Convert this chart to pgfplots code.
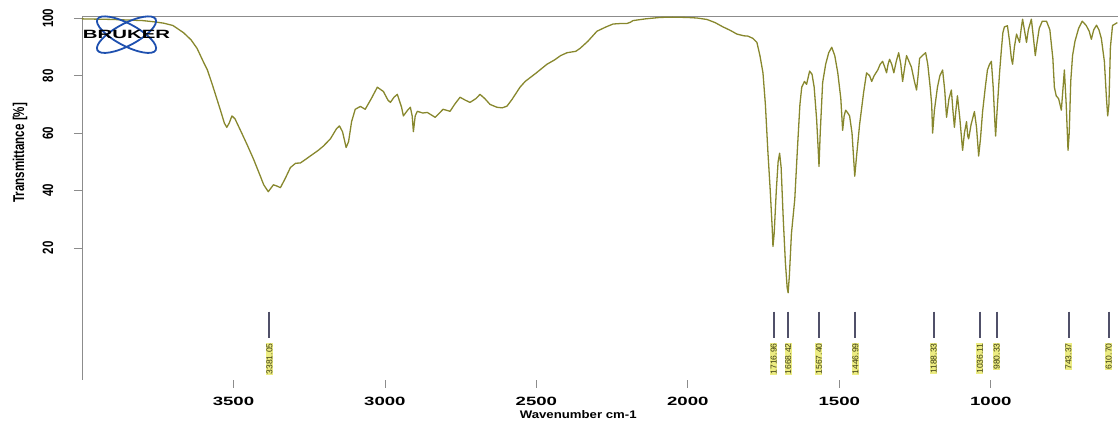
\documentclass[border=0pt]{standalone}
\usepackage{pgfplots}
\pgfplotsset{compat=1.18}
\usepackage{fontspec}
\setmainfont{Liberation Sans}
\definecolor{spec}{RGB}{135,135,45}
\definecolor{framec}{RGB}{140,140,140}
\definecolor{hl}{RGB}{236,236,130}
\definecolor{barc}{RGB}{80,80,105}
\definecolor{logoc}{RGB}{30,80,175}
\definecolor{lbltext}{RGB}{60,60,20}
\begin{document}
\begin{tikzpicture}
\begin{axis}[
  scale only axis, width=1036pt, height=364pt,
  x dir=reverse, xmin=580, xmax=4000, ymin=-26, ymax=100.8,
  axis line style={draw=none},
  xtick={1000,1500,2000,2500,3000,3500},
  ytick={20,40,60,80,100},
  tick align=outside, tick pos=left,
  major tick length=8pt,
  tick style={framec, line width=0.8pt},
  xticklabel={\scalebox{1.55}[1]{\pgfmathprintnumber[assume math mode=true,set thousands separator={}]{\tick}}},
  xticklabel style={font=\fontsize{12}{14}\selectfont\bfseries, anchor=center, yshift=-13pt},
  yticklabel={\scalebox{1}[1.3]{\pgfmathprintnumber[assume math mode=true]{\tick}}},
  yticklabel style={font=\fontsize{11.5}{13}\selectfont\bfseries, xshift=-26pt, rotate=90, anchor=center},
  xlabel={\scalebox{1.2}[1]{Wavenumber cm-1}},
  xlabel style={font=\fontsize{11}{13}\selectfont\bfseries, at={(axis description cs:0.479,-0.096)}, anchor=center},
  ylabel={\scalebox{1}[1.35]{Transmittance [\%]}},
  ylabel style={font=\fontsize{11.6}{13}\selectfont\bfseries, at={(axis description cs:-0.0598,0.624)}, anchor=center},
]
\draw[framec, line width=0.9pt] (rel axis cs:1,1) -- (rel axis cs:0,1) -- (rel axis cs:0,0) -- (rel axis cs:1,0);
\addplot[spec, line width=1.3pt, line join=round] coordinates {
(4000,99.8) (3950,99.7) (3900,99.6) (3850,99.4) (3800,99.2) (3764,98.8) (3730,98.3) (3700,97.5)
(3665,95) (3640,92.5) (3620,89.5) (3600,85) (3586,82) (3570,77) (3555,72) (3543,68) (3530,63.5)
(3522,62) (3514,63.5) (3505,66) (3495,65) (3477,61) (3455,56) (3434,51) (3415,46) (3400,42)
(3385,39.6) (3375,41) (3368,42) (3355,41.5) (3345,41) (3330,44) (3312,48) (3295,49.5) (3279,49.6)
(3260,51) (3240,52.5) (3220,54) (3203,55.5) (3180,58) (3160,61.5) (3150,62.5) (3140,60.5) (3128,55)
(3120,57) (3110,64) (3098,68.3) (3081,69.3) (3065,68.3) (3045,72) (3025,76) (3005,74.5) (2990,71.5)
(2982,70.7) (2970,72.5) (2959,73.5) (2945,69) (2939,66) (2925,68) (2916,69) (2910,66) (2906,60.5)
(2900,66) (2893,67.6) (2875,67) (2860,67.2) (2834,65.5) (2820,67) (2808,68.3) (2785,67.6) (2770,70)
(2752,72.5) (2735,71.5) (2719,70.7) (2700,72) (2686,73.5) (2670,72) (2653,70) (2630,69) (2613,68.8)
(2597,69.4) (2580,71.8) (2554,76) (2537,78) (2500,81) (2465,84) (2440,85.5) (2420,87) (2399,88)
(2370,88.5) (2356,89.5) (2330,92) (2300,95.5) (2270,97) (2247,98) (2220,98.2) (2201,98.2) (2190,98.6)
(2181,99.2) (2140,99.8) (2092,100.3) (2050,100.4) (2003,100.3) (1970,100.1) (1937,99.6) (1910,98.5)
(1884,97) (1860,95.8) (1838,94.5) (1815,93.9) (1802,93.8) (1785,93) (1772,91.6) (1762,87) (1752,81)
(1744,70) (1736,54) (1728,40) (1722,28) (1719,20.5) (1715,25) (1708,40) (1702,50) (1697,53) (1692,48)
(1685,30) (1678,15) (1672,6) (1669,4.4) (1665,10) (1658,25) (1647,37) (1638,55) (1630,70) (1624,76)
(1615,78) (1608,77) (1598,81.6) (1590,80.5) (1583,76) (1575,65) (1570,55) (1567,48.4) (1563,60)
(1555,77.6) (1545,84) (1535,88) (1525,89.9) (1515,87) (1505,81) (1495,72) (1489,61) (1484,66) (1479,68)
(1472,67) (1466,66) (1458,60) (1452,50) (1449,45) (1443,52) (1433,63) (1420,74) (1410,81) (1400,80)
(1393,78) (1385,80) (1373,82) (1365,84) (1357,85) (1350,83) (1344,81) (1339,84) (1334,85.7) (1327,84)
(1320,81) (1312,85) (1304,88) (1297,84) (1291,78) (1284,83) (1278,87) (1270,85) (1262,83) (1252,78)
(1245,75) (1240,80) (1235,86) (1226,87) (1215,88) (1208,84) (1200,76) (1195,70) (1192,60) (1186,68)
(1176,76) (1168,80) (1159,82) (1152,75) (1146,65.5) (1138,72) (1130,75) (1125,68) (1120,62) (1115,68)
(1110,73) (1102,65) (1093,54) (1087,60) (1080,64) (1076,59) (1073,58) (1065,63) (1054,67.5) (1047,62)
(1042,55) (1040,52) (1034,58) (1027,67.5) (1018,76) (1011,82) (1004,84) (998,85) (992,76) (987,65)
(984,59) (979,68) (971,81) (965,89) (960,95) (955,97) (945,97.4) (938,92) (932,86) (928,84) (922,90)
(915,94.5) (910,93) (905,91.6) (900,96) (895,99.7) (889,96) (882,91.6) (876,96) (866,99.7) (860,94)
(853,87) (848,91) (840,96.5) (830,99) (816,99) (805,96) (795,86) (790,76) (784,73) (776,72) (767,68)
(762,75) (757,82) (751,70) (745,54) (741,60) (736,78) (730,87) (722,92) (710,96.5) (698,99) (685,97.5)
(675,95.5) (668,92.7) (660,96) (651,97.6) (643,96) (635,93) (625,85) (618,72) (614,66) (610,70)
(605,90) (598,97.5) (582,98.5)
};
\pgfplotsinvokeforeach{3381.05,1716.96,1668.42,1567.40,1446.99,1188.33,1036.11,980.33,743.37,610.70}{
  \addplot[barc, line width=2pt] coordinates {(#1,-2.2) (#1,-11.3)};
  \node[rotate=90, anchor=east, fill=hl, text=lbltext, inner sep=0.6pt,
        font=\fontsize{8.5}{9}\selectfont] at (axis cs:#1,-13) {#1};
}
\coordinate (L) at (axis cs:3853,94.3);
\end{axis}
\begin{scope}[shift={(L)}]
  \draw[logoc, line width=1.8pt, rotate=28] (0,0) ellipse [x radius=33pt, y radius=11pt];
  \draw[logoc, line width=1.8pt, rotate=-28] (0,0) ellipse [x radius=33pt, y radius=11pt];
  \node[font=\fontsize{12}{13}\selectfont\bfseries, text=black, inner sep=0pt] at (0,0) {\scalebox{1.7}[1]{BRUKER}};
\end{scope}
\pgfresetboundingbox
\useasboundingbox ([xshift=-82pt,yshift=-44pt]current axis.south west) rectangle ([yshift=16pt]current axis.north east);
\end{tikzpicture}
\end{document}
